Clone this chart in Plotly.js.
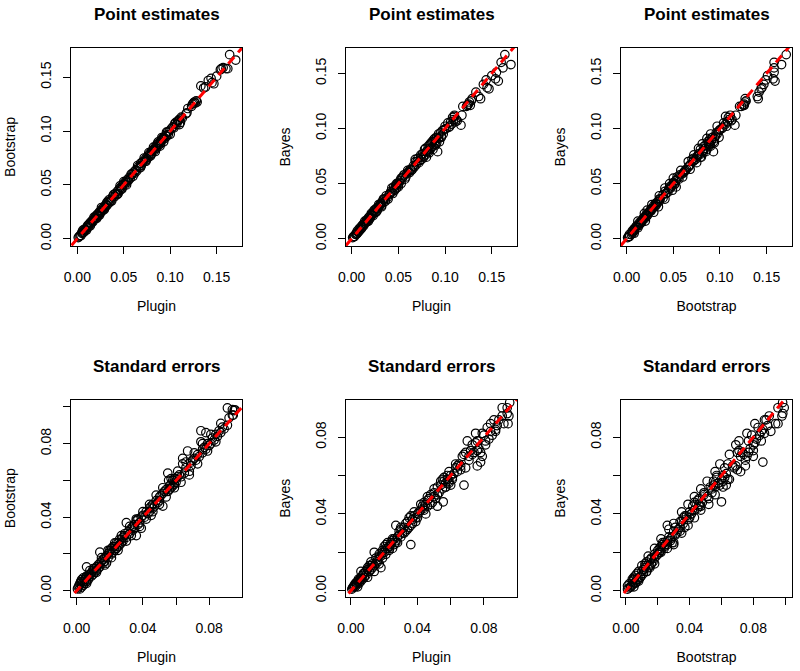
<!DOCTYPE html>
<html><head><meta charset="utf-8">
<script src="https://cdn.plot.ly/plotly-3.0.1.min.js"></script>
<style>html,body{margin:0;padding:0;background:#fff}</style>
</head><body><div id="chart" style="width:800px;height:671px"></div>
<script>
// ---- Point estimates ----
const pePlugin = [0.001,0.002,0.003,0.004,0.005,0.005,0.006,0.007,0.008,0.008,
0.009,0.010,0.011,0.012,0.012,0.013,0.014,0.015,0.016,0.016,
0.017,0.018,0.019,0.019,0.020,0.021,0.022,0.022,0.023,0.024,
0.025,0.026,0.027,0.027,0.028,0.029,0.030,0.031,0.031,0.032,
0.033,0.034,0.035,0.036,0.038,0.040,0.041,0.042,0.043,0.044,
0.045,0.046,0.047,0.048,0.049,0.050,0.051,0.052,0.053,0.054,
0.055,0.056,0.057,0.059,0.061,0.062,0.063,0.064,0.066,0.067,
0.068,0.069,0.070,0.071,0.073,0.074,0.075,0.076,0.077,0.078,
0.079,0.080,0.080,0.081,0.082,0.083,0.084,0.085,0.086,0.086,
0.087,0.088,0.089,0.090,0.090,0.091,0.092,0.093,0.094,0.095,
0.096,0.097,0.098,0.099,0.101,0.103,0.104,0.106,0.107,0.108,
0.109,0.110,0.111,0.113,0.117,0.118,0.119,0.123,0.124,0.125,
0.126,0.127,0.128,0.129,0.133,0.136,0.138,0.141,0.144,0.145,
0.147,0.150,0.154,0.155,0.157,0.160,0.162,0.164,0.1705,
0.006,0.010,0.014,0.018,0.021,0.024,0.026,0.029,0.032,0.034,
0.037,0.039,0.043,0.046,0.048,0.050,0.053,0.058,0.060,0.065,
0.068,0.072,0.074,0.077,0.079,0.082,0.084,0.087,0.089,0.091,
0.093,0.096,0.100,0.105,0.110,0.112];
const peBootstrap = [0.001,0.002,0.003,0.003,0.005,0.006,0.006,0.006,0.008,0.009,
0.008,0.010,0.012,0.011,0.013,0.013,0.015,0.014,0.016,0.017,
0.016,0.018,0.019,0.020,0.019,0.022,0.021,0.023,0.022,0.025,
0.024,0.026,0.026,0.028,0.027,0.030,0.029,0.031,0.032,0.031,
0.034,0.033,0.035,0.035,0.039,0.039,0.042,0.041,0.044,0.042,
0.046,0.045,0.048,0.047,0.050,0.051,0.050,0.053,0.052,0.055,
0.054,0.057,0.056,0.060,0.062,0.061,0.064,0.063,0.067,0.066,
0.070,0.068,0.071,0.072,0.072,0.075,0.074,0.077,0.076,0.079,
0.078,0.081,0.079,0.082,0.083,0.082,0.085,0.084,0.087,0.088,
0.086,0.089,0.088,0.091,0.089,0.092,0.093,0.094,0.093,0.096,
0.095,0.099,0.097,0.100,0.102,0.104,0.103,0.108,0.106,0.109,
0.110,0.111,0.108,0.112,0.116,0.117,0.121,0.123,0.125,0.126,
0.127,0.126,0.128,0.127,0.142,0.140,0.141,0.147,0.149,0.145,
0.144,0.151,0.157,0.158,0.159,0.158,0.158,0.171,0.166,
0.008,0.008,0.012,0.020,0.019,0.022,0.029,0.027,0.034,0.036,
0.035,0.041,0.041,0.049,0.046,0.053,0.050,0.060,0.058,0.068,
0.066,0.075,0.072,0.080,0.077,0.085,0.081,0.090,0.086,0.094,
0.090,0.099,0.097,0.107,0.106,0.113];
const peBayes = [0.001,0.002,0.002,0.004,0.004,0.005,0.007,0.006,0.007,0.009,
0.008,0.011,0.010,0.012,0.013,0.012,0.014,0.015,0.015,0.017,
0.016,0.019,0.018,0.020,0.019,0.021,0.022,0.023,0.021,0.025,
0.024,0.027,0.025,0.028,0.027,0.029,0.030,0.032,0.031,0.030,
0.034,0.033,0.036,0.034,0.037,0.040,0.041,0.043,0.042,0.041,
0.047,0.045,0.048,0.046,0.050,0.049,0.051,0.053,0.050,0.055,
0.056,0.058,0.054,0.059,0.061,0.060,0.063,0.062,0.066,0.065,
0.072,0.067,0.070,0.073,0.071,0.074,0.072,0.077,0.075,0.081,
0.076,0.079,0.074,0.080,0.084,0.078,0.085,0.082,0.088,0.087,
0.081,0.090,0.086,0.089,0.085,0.092,0.079,0.091,0.088,0.096,
0.093,0.098,0.095,0.099,0.100,0.105,0.101,0.106,0.104,0.110,
0.108,0.112,0.106,0.107,0.103,0.112,0.120,0.120,0.121,0.122,
0.124,0.121,0.125,0.127,0.133,0.129,0.127,0.140,0.144,0.137,
0.136,0.148,0.145,0.151,0.143,0.160,0.155,0.167,0.158,
0.005,0.009,0.016,0.016,0.023,0.026,0.024,0.031,0.029,0.036,
0.039,0.036,0.046,0.044,0.050,0.047,0.055,0.056,0.062,0.063,
0.070,0.069,0.076,0.074,0.082,0.079,0.086,0.084,0.091,0.087,
0.095,0.092,0.102,0.102,0.111,0.108];

// ---- Standard errors ----
const sePlugin = [0.0005,0.001,0.0015,0.002,0.002,0.0025,0.003,0.003,0.0035,0.004,
0.004,0.0045,0.005,0.005,0.0055,0.006,0.006,0.007,0.007,0.0075,
0.008,0.006,0.009,0.009,0.010,0.010,0.011,0.011,0.012,0.012,
0.013,0.013,0.014,0.014,0.015,0.014,0.016,0.016,0.017,0.017,
0.018,0.018,0.019,0.019,0.020,0.020,0.021,0.021,0.022,0.022,
0.023,0.023,0.024,0.024,0.025,0.025,0.026,0.026,0.027,0.027,
0.028,0.028,0.029,0.029,0.030,0.030,0.031,0.032,0.033,0.034,
0.034,0.035,0.035,0.036,0.036,0.037,0.037,0.038,0.039,0.039,
0.040,0.041,0.042,0.043,0.044,0.044,0.045,0.045,0.046,0.046,
0.047,0.048,0.049,0.050,0.050,0.051,0.052,0.052,0.053,0.054,
0.0555,0.055,0.056,0.056,0.057,0.057,0.058,0.058,0.059,0.059,
0.060,0.060,0.061,0.062,0.063,0.064,0.064,0.055,0.065,0.066,
0.067,0.068,0.069,0.069,0.070,0.071,0.072,0.073,0.074,0.075,
0.075,0.076,0.076,0.077,0.078,0.079,0.080,0.081,0.082,0.078,
0.083,0.084,0.085,0.086,0.087,0.088,0.089,0.091,0.092,0.094,
0.095,0.091,0.094,0.0955,0.0945,
0.003,0.006,0.008,0.010,0.012,0.015,0.017,0.019,0.021,0.023,
0.025,0.027,0.030,0.032,0.033,0.036,0.038,0.040,0.042,0.044,
0.046,0.048,0.050,0.052,0.054,0.057,0.059,0.061,0.063,0.066,
0.068,0.071,0.073,0.076,0.079,0.081,0.084,0.087];
const seBootstrap = [0.001,0.002,0.003,0.001,0.004,0.005,0.002,0.006,0.004,0.007,
0.003,0.005,0.006,0.004,0.007,0.005,0.008,0.006,0.008,0.007,
0.009,0.013,0.008,0.010,0.011,0.009,0.012,0.010,0.013,0.011,
0.014,0.012,0.015,0.013,0.016,0.021,0.015,0.017,0.018,0.016,
0.015,0.019,0.020,0.018,0.021,0.022,0.020,0.023,0.021,0.024,
0.022,0.024,0.023,0.026,0.024,0.026,0.025,0.028,0.026,0.028,
0.027,0.029,0.030,0.031,0.037,0.029,0.032,0.031,0.034,0.035,
0.033,0.036,0.034,0.030,0.038,0.036,0.039,0.037,0.034,0.040,
0.041,0.040,0.043,0.042,0.045,0.043,0.041,0.046,0.045,0.047,
0.046,0.049,0.048,0.051,0.049,0.052,0.046,0.053,0.054,0.055,
0.060,0.054,0.057,0.055,0.058,0.056,0.060,0.057,0.058,0.061,
0.061,0.059,0.062,0.063,0.062,0.072,0.069,0.064,0.064,0.067,
0.076,0.063,0.068,0.070,0.071,0.072,0.071,0.074,0.073,0.087,
0.081,0.075,0.077,0.078,0.077,0.080,0.079,0.080,0.083,0.086,
0.082,0.085,0.084,0.087,0.086,0.089,0.088,0.090,0.094,0.0955,
0.098,0.0994,0.0985,0.0984,0.0955,
0.005,0.004,0.011,0.012,0.010,0.018,0.014,0.022,0.018,0.026,
0.022,0.030,0.027,0.035,0.030,0.039,0.035,0.043,0.039,0.047,
0.043,0.052,0.047,0.056,0.051,0.061,0.056,0.065,0.059,0.070,
0.065,0.075,0.069,0.080,0.076,0.085,0.081,0.091];
const seBayes = [0.0008,0.0015,0.002,0.0025,0.003,0.002,0.0035,0.004,0.003,0.005,
0.002,0.006,0.004,0.005,0.006,0.007,0.005,0.008,0.006,0.009,
0.007,0.010,0.010,0.008,0.011,0.007,0.013,0.010,0.015,0.011,
0.012,0.014,0.013,0.010,0.017,0.020,0.016,0.015,0.019,0.014,
0.012,0.018,0.021,0.017,0.020,0.023,0.019,0.024,0.022,0.025,
0.021,0.023,0.025,0.024,0.022,0.026,0.024,0.027,0.034,0.026,
0.028,0.025,0.031,0.029,0.033,0.028,0.030,0.033,0.031,0.036,
0.032,0.038,0.033,0.024,0.039,0.035,0.037,0.039,0.036,0.038,
0.040,0.041,0.042,0.044,0.043,0.046,0.040,0.045,0.047,0.044,
0.048,0.050,0.046,0.049,0.051,0.048,0.044,0.054,0.051,0.055,
0.0463,0.053,0.059,0.057,0.056,0.054,0.058,0.060,0.056,0.057,
0.060,0.055,0.059,0.061,0.064,0.062,0.065,0.058,0.066,0.065,
0.070,0.055,0.064,0.072,0.078,0.070,0.073,0.071,0.072,0.082,
0.077,0.065,0.078,0.074,0.072,0.070,0.081,0.076,0.085,0.067,
0.079,0.083,0.081,0.089,0.084,0.086,0.089,0.091,0.087,0.0953,
0.091,0.0953,0.0923,0.098,0.087,
0.004,0.006,0.009,0.012,0.013,0.014,0.018,0.020,0.022,0.022,
0.027,0.025,0.032,0.030,0.035,0.034,0.041,0.038,0.045,0.042,
0.049,0.045,0.053,0.050,0.057,0.054,0.062,0.058,0.066,0.063,
0.071,0.068,0.076,0.073,0.082,0.078,0.087,0.083];

const panelTitles = ["Point estimates","Point estimates","Point estimates",
                     "Standard errors","Standard errors","Standard errors"];
const xLabels = ["Plugin","Plugin","Bootstrap","Plugin","Plugin","Bootstrap"];
const yLabels = ["Bootstrap","Bayes","Bayes","Bootstrap","Bayes","Bayes"];
const peTickVals = [0, 0.05, 0.10, 0.15];
const peTickText = ["0.00","0.05","0.10","0.15"];
const seTickVals = [0, 0.02, 0.04, 0.06, 0.08, 0.10];
const seTickText = ["0.00","","0.04","","0.08",""];

const panelData = [
  [pePlugin, peBootstrap], [pePlugin, peBayes], [peBootstrap, peBayes],
  [sePlugin, seBootstrap], [sePlugin, seBayes], [seBootstrap, seBayes]
];
// axis ranges (R style padded) per panel
const xRanges = [[-0.0068,0.1773],[-0.0061,0.1770],[-0.0061,0.1772],
                 [-0.0034,0.0998],[-0.0030,0.0999],[-0.0031,0.1043]];
const yRanges = [[-0.0068,0.1772],[-0.0066,0.1730],[-0.0066,0.1730],
                 [-0.0034,0.1040],[-0.0033,0.0996],[-0.0033,0.0996]];

const W = 800, H = 671;
const colPx = [[71,242],[346,517],[621,792]];
const rowPx = [[48,246],[399.5,597]];

const FONT = "Liberation Sans, Arial, Helvetica, sans-serif";
const traces = [];
const layout = {
  width: W, height: H, margin: {l:0,r:0,t:0,b:0},
  paper_bgcolor: "#fff", plot_bgcolor: "#fff",
  showlegend: false, font: {family: FONT, color: "#000", size: 14},
  annotations: []
};

for (let i = 0; i < 6; i++) {
  const r = Math.floor(i/3), c = i % 3;
  const sfx = i === 0 ? "" : String(i+1);
  const xa = "x" + sfx, ya = "y" + sfx;
  const isPE = r === 0;
  const [xs, ys] = panelData[i];
  traces.push({
    type: "scatter", mode: "markers", x: xs, y: ys, xaxis: xa, yaxis: ya,
    marker: {symbol: "circle-open", size: 8.5, color: "#000", line: {width: 1.2, color: "#000"}},
    hoverinfo: "skip"
  });
  const lo = Math.min(xRanges[i][0], yRanges[i][0]) - 0.01;
  const hi = Math.max(xRanges[i][1], yRanges[i][1]) + 0.01;
  traces.push({
    type: "scatter", mode: "lines", x: [lo, hi], y: [lo, hi], xaxis: xa, yaxis: ya,
    line: {color: "#ff0000", width: 3, dash: "9px,6px"}, hoverinfo: "skip"
  });
  const common = {
    showgrid: false, zeroline: false, showline: true, mirror: true,
    linecolor: "#000", linewidth: 1, ticks: "outside", ticklen: 7, tickwidth: 1,
    tickcolor: "#000", tickfont: {family: FONT, size: 14, color: "#000"},
    tickmode: "array", automargin: false, fixedrange: true
  };
  layout["xaxis" + sfx] = Object.assign({}, common, {
    domain: [colPx[c][0]/W, colPx[c][1]/W], anchor: ya, range: xRanges[i],
    tickvals: isPE ? peTickVals : seTickVals, ticktext: isPE ? peTickText : seTickText,
    ticklabelstandoff: 11,
    title: {text: xLabels[i], font: {family: FONT, size: 14, color: "#000"}, standoff: 17}
  });
  layout["yaxis" + sfx] = Object.assign({}, common, {
    domain: [1 - rowPx[r][1]/H, 1 - rowPx[r][0]/H], anchor: xa, range: yRanges[i],
    tickvals: isPE ? peTickVals : seTickVals, ticktext: isPE ? peTickText : seTickText,
    tickangle: -90, ticklabelstandoff: 6,
    title: {text: yLabels[i], font: {family: FONT, size: 14, color: "#000"}, standoff: 19}
  });
  layout.annotations.push({
    text: "<b>" + panelTitles[i] + "</b>", xref: "paper", yref: "paper",
    x: (colPx[c][0] + colPx[c][1]) / 2 / W, y: 1 - rowPx[r][0]/H,
    yshift: 33, xanchor: "center", yanchor: "middle", showarrow: false,
    font: {family: FONT, size: 17, color: "#000"}
  });
}

Plotly.newPlot("chart", traces, layout, {staticPlot: true, displayModeBar: false});
</script>
</body></html>
